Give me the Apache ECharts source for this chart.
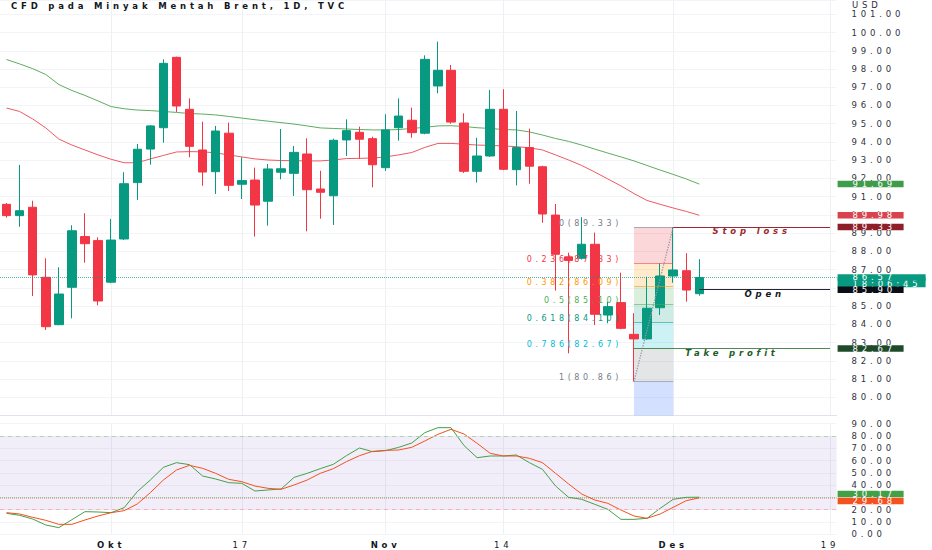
<!DOCTYPE html>
<html><head><meta charset="utf-8">
<script src="https://cdn.jsdelivr.net/npm/echarts@6/dist/echarts.min.js"></script>
<style>
html,body{margin:0;padding:0;background:#fff;}
#chart{width:932px;height:550px;}
#chart text{letter-spacing:0.45em;}
</style></head><body><div id="chart"></div>
<script>
const dates = ['09-21','09-22','09-23','09-26','09-27','09-28','09-29','09-30',
 '10-03','10-04','10-05','10-06','10-07','10-10','10-11','10-12','10-13','10-14','10-17','10-18','10-19','10-20','10-21','10-24','10-25','10-26','10-27','10-28','10-31',
 '11-01','11-02','11-03','11-04','11-07','11-08','11-09','11-10','11-11','11-14','11-15','11-16','11-17','11-18','11-21','11-22','11-23','11-24','11-25','11-28','11-29','11-30',
 '12-01','12-02','12-05','12-06','12-07','12-08','12-09','12-12','12-13','12-14','12-15','12-16','12-19'];
const tickLabels = {'10-03':'Okt','10-17':'17','11-01':'Nov','11-14':'14','12-01':'Des','12-19':'19'};
const monthLabels = ['Okt','Nov','Des'];

const opens  = [90.58,89.96,90.42,86.58,83.98,86.03,88.81,88.59,86.31,88.68,91.77,93.61,94.78,98.64,95.79,93.56,92.37,94.48,91.68,91.91,90.75,92.34,92.28,93.34,91.42,91.05,94.11,94.53,94.18,92.59,94.78,95.19,94.48,97.07,97.93,95.04,92.39,93.23,95.79,92.48,93.69,92.64,89.99,87.70,87.62,88.39,84.51,85.19,83.45,83.20,84.91,86.65,86.94,85.68];
const closes = [89.96,90.23,86.71,83.87,85.66,89.13,88.42,85.28,88.62,91.71,93.60,94.88,98.31,95.97,93.76,92.35,94.60,91.62,91.88,90.54,92.52,92.53,93.43,91.38,91.24,94.09,94.62,94.15,92.75,94.66,95.42,94.51,98.53,97.93,95.09,92.39,93.23,95.79,92.50,93.69,92.67,90.05,87.84,87.50,88.39,84.55,84.97,83.78,83.20,84.88,86.65,86.98,85.88,86.57];
const lows   = [89.85,89.35,85.55,83.69,83.95,84.33,87.38,85.04,86.25,88.62,90.82,92.75,93.96,95.64,93.16,91.60,91.15,91.31,90.87,88.81,89.41,91.95,91.04,89.10,89.79,89.45,93.23,93.08,91.51,92.41,94.07,94.23,94.42,96.67,95.00,92.30,91.77,93.18,92.45,91.62,91.71,89.57,85.85,82.41,87.55,83.96,84.06,83.73,80.86,83.15,84.51,86.28,85.24,85.57];
const highs  = [90.65,92.74,90.78,87.62,87.13,89.43,90.09,88.77,89.78,92.34,93.89,94.93,98.53,98.68,96.39,95.11,94.88,95.06,93.16,92.59,92.79,94.71,93.78,94.20,92.42,94.18,95.24,94.84,94.29,95.52,96.39,95.88,98.75,99.50,98.22,95.57,94.23,96.85,96.89,95.70,94.73,92.70,90.60,87.93,89.87,89.03,85.24,86.83,84.61,86.61,87.35,89.33,87.90,87.57];

const maSlow = [98.52,98.28,98.02,97.70,97.15,96.82,96.55,96.25,95.94,95.82,95.75,95.72,95.67,95.62,95.56,95.53,95.48,95.40,95.31,95.22,95.14,95.06,94.98,94.88,94.77,94.74,94.71,94.68,94.66,94.66,94.68,94.74,94.80,94.88,94.89,94.85,94.78,94.74,94.68,94.66,94.55,94.38,94.19,94.03,93.83,93.61,93.39,93.18,92.96,92.71,92.46,92.22,91.97,91.69];
const maFast = [95.86,95.67,95.26,94.77,94.16,93.83,93.56,93.29,93.05,92.86,92.86,93.07,93.26,93.45,93.47,93.46,93.40,93.29,93.18,93.07,93.01,92.98,92.97,92.96,92.96,93.01,93.09,93.10,93.12,93.18,93.29,93.42,93.70,93.92,93.92,93.88,93.83,93.81,93.78,93.74,93.68,93.56,93.29,93.01,92.71,92.35,91.97,91.59,91.17,90.79,90.58,90.38,90.19,89.98];

const stochK = [17.06,15.43,12.45,7.57,5.40,11.91,18.42,18.15,17.60,21.67,34.69,44.19,54.49,58.29,56.66,47.44,45.00,42.01,41.47,35.23,36.05,36.86,46.36,49.61,53.41,56.94,63.99,70.22,67.24,68.05,70.77,74.29,82.70,86.77,86.77,72.20,62.36,63.72,63.72,64.53,58.29,52.87,39.30,30.08,28.46,24.39,20.32,12.18,12.18,13.00,21.13,28.46,30.08,30.17];
const stochD = [17.60,16.52,13.81,11.37,8.11,8.11,11.64,14.89,17.60,19.23,24.66,33.88,44.19,52.32,56.12,53.68,49.61,44.73,42.83,39.30,37.41,36.59,40.12,44.19,49.61,53.41,59.10,63.99,67.51,68.33,68.60,70.77,75.92,81.35,85.42,81.62,74.02,65.89,63.72,63.72,61.82,58.29,49.61,40.93,32.79,27.91,25.20,19.77,14.89,13.00,16.52,21.95,27.37,29.68];
const stochBands = [20, 80];

const fibRatios = ['0','0.236','0.382','0.5','0.618','0.786','1','1.618'];
const fibPrices = [89.33,87.33,86.09,85.10,84.10,82.67,80.86,75.63];
const fibColors = ['#787b86','#f23645','#ff9800','#4caf50','#089981','#00bcd4','#787b86','#2962ff'];
const fibFrom = '11-28', fibTo = '12-01';

const posNames  = ['Stop loss','Open','Take profit'];
const posPrices = [89.33, 85.90, 82.67];
const posStart  = ['12-01','12-05','11-28'];
const posColors = ['#9b2a30','#222631','#4f8a55'];
const posText   = ['#9b2a30','#131722','#1e5c2a'];
const posTags   = ['#8e1f28','#0c0e15','#1e4a2a'];
const countdown = '18:06:45';
const title = 'CFD pada Minyak Mentah Brent, 1D, TVC';
const currency = 'USD';

const priceMin = 79, priceMax = 101.784;
const FF = "'DejaVu Sans', sans-serif";
const TAG_LH = 6.5;
const last = a => a[a.length - 1];
const endDate = last(dates);

function rgba(hex, a) {
  const n = parseInt(hex.slice(1), 16);
  return 'rgba(' + (n >> 16) + ',' + ((n >> 8) & 255) + ',' + (n & 255) + ',' + a + ')';
}
function tag(value, bg, extra, text, labelExtra) {
  const item = Object.assign({
    yAxis: value,
    lineStyle: { color: 'rgba(0,0,0,0)', width: 0 },
    label: {
      show: true, position: 'end', distance: 1, opacity: 1,
      formatter: text || value.toFixed(2),
      color: '#fff', backgroundColor: bg, padding: [0, 6, 0, 15], width: 45,
      fontSize: 8.5, lineHeight: TAG_LH, fontFamily: FF
    }
  }, extra || {});
  Object.assign(item.label, labelExtra || {});
  return item;
}

const candleData = opens.map((o, i) => [o, closes[i], lows[i], highs[i]]);

// fib zones
const fibAreas = [];
for (let i = 0; i < fibPrices.length - 1; i++) {
  fibAreas.push([
    { coord: [fibFrom, fibPrices[i]], itemStyle: { color: rgba(fibColors[i + 1], 0.2) } },
    { coord: [fibTo, Math.max(fibPrices[i + 1], priceMin)] }
  ]);
}
// fib level lines + labels, trend line, position tool lines
const drawLines = [];
for (let i = 0; i < fibPrices.length - 1; i++) {
  drawLines.push([
    { coord: [fibFrom, fibPrices[i]], lineStyle: { color: rgba(fibColors[i], 0.55), width: 1, type: 'solid' },
      label: { show: true, position: 'start', distance: 12, align: 'right', verticalAlign: 'bottom',
        formatter: fibRatios[i] + '(' + fibPrices[i].toFixed(2) + ')', color: fibColors[i],
        fontSize: 8, lineHeight: 8, fontFamily: FF } },
    { coord: [fibTo, fibPrices[i]] }
  ]);
}
drawLines.push([
  { coord: [fibFrom, lows[dates.indexOf(fibFrom)]], lineStyle: { color: '#9598a1', width: 1.3, type: 'dotted' }, label: { show: false } },
  { coord: [fibTo, highs[dates.indexOf(fibTo)]] }
]);
posNames.forEach((n, i) => {
  drawLines.push([
    { coord: [posStart[i], posPrices[i]], lineStyle: { color: posColors[i], width: 1.2, type: 'solid' },
      label: { show: true, position: 'insideMiddleBottom', distance: 1, formatter: n, color: posText[i],
        fontStyle: 'italic', fontWeight: 'bold', fontSize: 8.5, lineHeight: 6, fontFamily: FF } },
    { coord: [endDate, posPrices[i]] }
  ]);
});

const xBase = {
  type: 'category', data: dates, boundaryGap: true,
  axisTick: { show: false },
  splitLine: { show: true, interval: (i, v) => v in tickLabels, alignWithLabel: true, lineStyle: { color: '#eef0f4', width: 1 } }
};

const option = {
  animation: false,
  backgroundColor: '#ffffff',
  textStyle: { fontFamily: FF },
  title: [
    { text: title, left: 11, top: 1, padding: 0, textStyle: { fontSize: 8.5, fontWeight: 'bold', color: '#131722', fontFamily: FF } },
    { text: currency, left: 852, top: 0.5, padding: 0, textStyle: { fontSize: 8.5, fontWeight: 'normal', color: '#2a2e39', fontFamily: FF } }
  ],
  grid: [
    { left: -8.2, right: 95.4, top: 0, height: 415.5 },
    { left: -8.2, right: 95.4, top: 423.7, height: 110.6 }
  ],
  xAxis: [
    Object.assign({}, xBase, { gridIndex: 0, axisLabel: { show: false },
      axisLine: { show: true, onZero: false, lineStyle: { color: '#e0e3eb', width: 1 } } }),
    Object.assign({}, xBase, { gridIndex: 1, axisLine: { show: false },
      axisLabel: { show: true, interval: (i, v) => v in tickLabels, margin: 6,
        formatter: v => monthLabels.includes(tickLabels[v]) ? '{m|' + tickLabels[v] + '}' : tickLabels[v],
        color: '#131722', fontSize: 8.5, fontFamily: FF,
        rich: { m: { fontWeight: 'bold', color: '#131722', fontSize: 8.5, fontFamily: FF } } } })
  ],
  yAxis: [
    { type: 'value', gridIndex: 0, position: 'right', min: priceMin, max: priceMax, interval: 1,
      axisLine: { show: false }, axisTick: { show: false },
      axisLabel: { margin: 15, showMaxLabel: false, showMinLabel: false, formatter: v => v.toFixed(2),
        color: '#2f3241', fontSize: 8.5, fontFamily: FF },
      splitLine: { show: true, lineStyle: { color: '#f3f4f7', width: 1 } } },
    { type: 'value', gridIndex: 1, position: 'right', min: 0, max: 90, interval: 10,
      axisLine: { show: false }, axisTick: { show: false },
      axisLabel: { margin: 15, formatter: v => v.toFixed(2), color: '#2f3241', fontSize: 8.5, fontFamily: FF },
      splitLine: { show: true, lineStyle: { color: '#f3f4f7', width: 1 } } }
  ],
  series: [
    { type: 'line', name: 'fib zones', xAxisIndex: 0, yAxisIndex: 0, data: [], z: 1, silent: true,
      markArea: { silent: true, data: fibAreas } },
    { type: 'line', name: 'MA slow', xAxisIndex: 0, yAxisIndex: 0, data: maSlow, z: 2,
      showSymbol: false, symbol: 'none', lineStyle: { color: '#5cad60', width: 1 }, silent: true,
      markLine: { silent: true, symbol: ['none', 'none'], data: [tag(last(maSlow), '#3f9c4b')] } },
    { type: 'line', name: 'MA fast', xAxisIndex: 0, yAxisIndex: 0, data: maFast, z: 2,
      showSymbol: false, symbol: 'none', lineStyle: { color: '#ee5a62', width: 1 }, silent: true,
      markLine: { silent: true, symbol: ['none', 'none'], data: [tag(last(maFast), '#d9434d')] } },
    { type: 'candlestick', name: 'Brent', xAxisIndex: 0, yAxisIndex: 0, data: candleData, z: 3,
      barWidth: 9, silent: true,
      itemStyle: { color: '#089981', color0: '#f23645', borderColor: '#089981', borderColor0: '#f23645', borderWidth: 1 } },
    { type: 'line', name: 'drawings', xAxisIndex: 0, yAxisIndex: 0, data: [], z: 4, silent: true,
      markLine: { silent: true, symbol: ['none', 'none'], data: drawLines.concat([
        tag(last(closes), '#089981', { lineStyle: { color: rgba('#089981', 0.7), type: 'dotted', width: 1 } },
          countdown, { verticalAlign: 'top', padding: [TAG_LH / 2, 6, 0, 15], width: 67 }),
        tag(last(closes), '#089981', null, null, { width: 67 }),
        tag(posPrices[0], posTags[0]),
        tag(posPrices[1], posTags[1]),
        tag(posPrices[2], posTags[2])
      ]) } },
    { type: 'line', name: '%K', xAxisIndex: 1, yAxisIndex: 1, data: stochK, z: 3,
      showSymbol: false, symbol: 'none', lineStyle: { color: '#43a047', width: 1 }, silent: true,
      markArea: { silent: true, itemStyle: { color: 'rgba(126,87,194,0.1)' },
        data: [[{ yAxis: stochBands[0] }, { yAxis: stochBands[1] }]] },
      markLine: { silent: true, symbol: ['none', 'none'], data: [
        { yAxis: stochBands[1], lineStyle: { color: '#a9d8ad', type: [4, 4], width: 1 }, label: { show: false } },
        { yAxis: stochBands[0], lineStyle: { color: '#f7b3b8', type: [4, 4], width: 1 }, label: { show: false } },
        tag(last(stochK), '#43a047', { lineStyle: { color: rgba('#43a047', 0.5), type: 'dotted', width: 1 } }, null, { verticalAlign: 'bottom' })
      ] } },
    { type: 'line', name: '%D', xAxisIndex: 1, yAxisIndex: 1, data: stochD, z: 3,
      showSymbol: false, symbol: 'none', lineStyle: { color: '#f4511e', width: 1 }, silent: true,
      markLine: { silent: true, symbol: ['none', 'none'], data: [
        tag(last(stochD), '#f4511e', { lineStyle: { color: rgba('#f4511e', 0.4), type: 'dotted', width: 1 } }, null, { verticalAlign: 'top' })
      ] } }
  ]
};

const chart = echarts.init(document.getElementById('chart'), null, { renderer: 'svg' });
chart.setOption(option);
</script></body></html>
